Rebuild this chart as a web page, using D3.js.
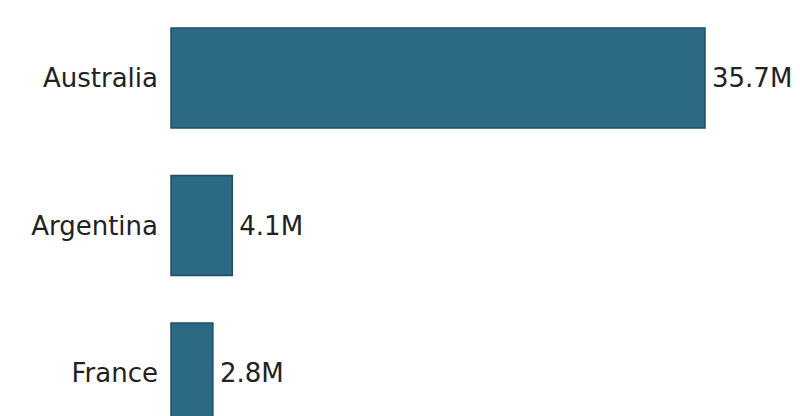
<!DOCTYPE html>
<html>
<head>
<meta charset="utf-8">
<script src="https://cdn.jsdelivr.net/npm/d3@7"></script>
<style>
  html, body { margin: 0; padding: 0; background: #fff; overflow: hidden; }
  svg text { font-family: "DejaVu Sans", sans-serif; fill: #222; }
</style>
</head>
<body>
<svg id="chart" width="800" height="416"></svg>
<script>
// data
const countries = ['Australia', 'Argentina', 'France'];
const values = [35.7, 4.1, 2.8]; // millions
const valueLabels = ['35.7M', '4.1M', '2.8M'];

const width = 800;
const height = 416;

const svg = d3.select('#chart');

const x = d3.scaleLinear()
    .domain([0, d3.max(values)])
    .range([171, 705]);

const y = d3.scaleBand()
    .domain(countries)
    .range([28, 423])
    .paddingInner(0.322)
    .paddingOuter(0);

const rows = countries.map((c, i) => ({ country: c, value: values[i], label: valueLabels[i] }));

const row = svg.append('g')
    .selectAll('g')
    .data(rows)
    .join('g');

row.append('rect')
    .attr('x', x(0))
    .attr('y', d => y(d.country))
    .attr('width', d => x(d.value) - x(0))
    .attr('height', y.bandwidth())
    .attr('fill', '#2b6985')
    .attr('stroke', '#1e4f64')
    .attr('stroke-width', 1.5);

// country names, left of the bars
row.append('text')
    .attr('x', x(0) - 13)
    .attr('y', d => y(d.country) + y.bandwidth() / 2)
    .attr('dy', '0.36em')
    .attr('text-anchor', 'end')
    .attr('font-size', 26)
    .text(d => d.country);

// value labels at bar end
row.append('text')
    .attr('x', d => x(d.value) + 7)
    .attr('y', d => y(d.country) + y.bandwidth() / 2)
    .attr('dy', '0.36em')
    .attr('font-size', 26)
    .text(d => d.label);
</script>
</body>
</html>
